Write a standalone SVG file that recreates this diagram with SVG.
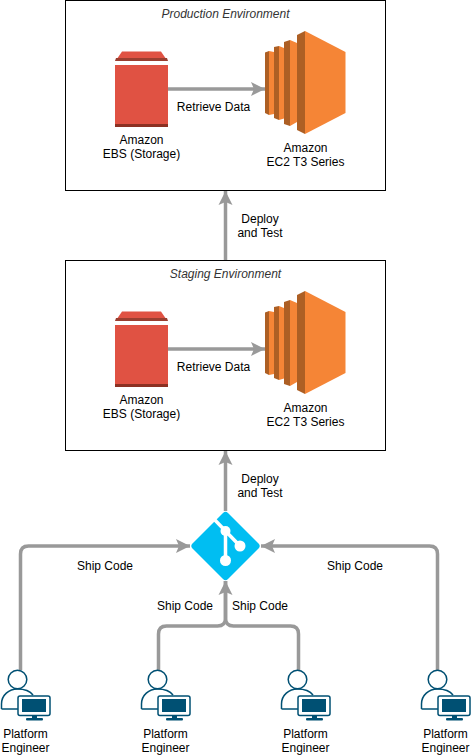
<svg xmlns="http://www.w3.org/2000/svg" xmlns:xlink="http://www.w3.org/1999/xlink" width="471" height="756" viewBox="0 0 471 756">
<style>
text{font-family:"Liberation Sans",Arial,sans-serif;font-size:12px;fill:#000;text-anchor:middle}
.env{font-style:italic;fill:#333}
.box{fill:#fff;stroke:#000;stroke-width:1}
.c{fill:none;stroke:#999;stroke-width:3.500}
.d{fill:#ad5f24}
.l{fill:#f58536}
.u{fill:none;stroke:#005073;stroke-width:1.500}
</style>
<defs>
<marker id="a" markerUnits="userSpaceOnUse" markerWidth="16" markerHeight="16" refX="14" refY="8" orient="auto"><path d="M0 1L14 8L0 15L3 8Z" fill="#999"/></marker>
<g id="ebs">
<path d="M115.500 61L122 51.500H161L167.500 61Z" fill="#e05243"/>
<path d="M116 58H167L168 61H115Z" fill="#9a3e30"/>
<rect x="115" y="65" width="53" height="62" fill="#e05243"/>
<rect x="115" y="124" width="53" height="3" fill="#8c3123"/>
</g>
<g id="ec2">
<path class="l" d="M269 51L274 52V114L269 115Z"/>
<path class="d" d="M265 52.500L269 51V115L265 113Z"/>
<path class="l" d="M279 46L284 48V118.500L279 120Z"/>
<path class="d" d="M274 47L279 46V120L274 118Z"/>
<path class="l" d="M290 40L297 43V122L290 126Z"/>
<path class="d" d="M284 42L290 40V126L284 124Z"/>
<path class="d" d="M297 35L305 31V134L297 130Z"/>
<path class="l" d="M305 31L345.500 52V113L305 134Z"/>
</g>
<g id="eng">
<circle cx="17.500" cy="679.500" r="9.300" fill="#fff" stroke="#005073" stroke-width="1.500"/>
<path class="u" d="M1.500 709V704C1.500 695 9 689 17.500 689C24 689 30 691 33 695"/>
<path class="u" d="M1.500 709H18"/>
<rect x="18" y="696" width="32" height="19.500" rx="2" fill="#fff" stroke="#005073" stroke-width="1.500"/>
<rect x="22" y="699" width="24" height="13" fill="#005073"/>
<rect x="32" y="715" width="5" height="3.500" fill="#005073"/>
<rect x="26" y="718" width="17" height="2.500" rx="1" fill="#005073"/>
</g>
</defs>
<g id="production"><rect class="box" x="65.500" y="0.500" width="320" height="190"/><text class="env" x="225.500" y="18">Production Environment</text></g>
<g id="staging"><rect class="box" x="65.500" y="260.500" width="320" height="190"/><text class="env" x="225.500" y="278">Staging Environment</text></g>
<g id="connectors">
<path class="c" d="M168 89H265" marker-end="url(#a)"/>
<path class="c" d="M168 349H265" marker-end="url(#a)"/>
<path class="c" d="M225.500 260V191" marker-end="url(#a)"/>
<path class="c" d="M225.500 511V451" marker-end="url(#a)"/>
<path class="c" d="M20.500 670V554Q20.500 546 28.500 546H190" marker-end="url(#a)"/>
<path class="c" d="M437.500 670V554Q437.500 546 429.500 546H261" marker-end="url(#a)"/>
<path class="c" d="M158.500 670V634Q158.500 626 166.500 626H217.500Q225.500 626 225.500 618V581" marker-end="url(#a)"/>
<path class="c" d="M298.500 670V634Q298.500 626 290.500 626H233.500Q225.500 626 225.500 618V581"/>
</g>
<g id="ebs1"><use xlink:href="#ebs"/><text x="141.500" y="144">Amazon</text><text x="141.500" y="158">EBS (Storage)</text></g>
<g id="ec21"><use xlink:href="#ec2"/><text x="305.500" y="152">Amazon</text><text x="305.500" y="166">EC2 T3 Series</text></g>
<g id="ebs2"><use xlink:href="#ebs" y="260"/><text x="141.500" y="404">Amazon</text><text x="141.500" y="418">EBS (Storage)</text></g>
<g id="ec22"><use xlink:href="#ec2" y="260"/><text x="305.500" y="412">Amazon</text><text x="305.500" y="426">EC2 T3 Series</text></g>
<g id="labels">
<text x="213.500" y="111">Retrieve Data</text>
<text x="213.500" y="371">Retrieve Data</text>
<text x="260" y="223">Deploy</text><text x="260" y="237">and Test</text>
<text x="260" y="483">Deploy</text><text x="260" y="497">and Test</text>
<text x="105" y="570">Ship Code</text>
<text x="355" y="570">Ship Code</text>
<text x="185" y="610">Ship Code</text>
<text x="260" y="610">Ship Code</text>
</g>
<g id="git">
<path d="M223 513Q225.500 510.500 228 513L258.500 543.500Q261 546 258.500 548.500L228 579Q225.500 581.500 223 579L192.500 548.500Q190 546 192.500 543.500Z" fill="#00bef2"/>
<path d="M212 517L225.500 531M225.500 531V560M225.500 531L240 546" fill="none" stroke="#fff" stroke-width="3.500"/>
<circle cx="225.500" cy="531" r="5" fill="#fff"/>
<circle cx="240" cy="546" r="5.500" fill="#fff"/>
<circle cx="225.500" cy="560.500" r="5.500" fill="#fff"/>
</g>
<g id="eng1"><use xlink:href="#eng"/><text x="25.500" y="738">Platform</text><text x="25.500" y="752">Engineer</text></g>
<g id="eng2"><use xlink:href="#eng" x="140"/><text x="165.500" y="738">Platform</text><text x="165.500" y="752">Engineer</text></g>
<g id="eng3"><use xlink:href="#eng" x="280"/><text x="305.500" y="738">Platform</text><text x="305.500" y="752">Engineer</text></g>
<g id="eng4"><use xlink:href="#eng" x="420"/><text x="445.500" y="738">Platform</text><text x="445.500" y="752">Engineer</text></g>
</svg>
